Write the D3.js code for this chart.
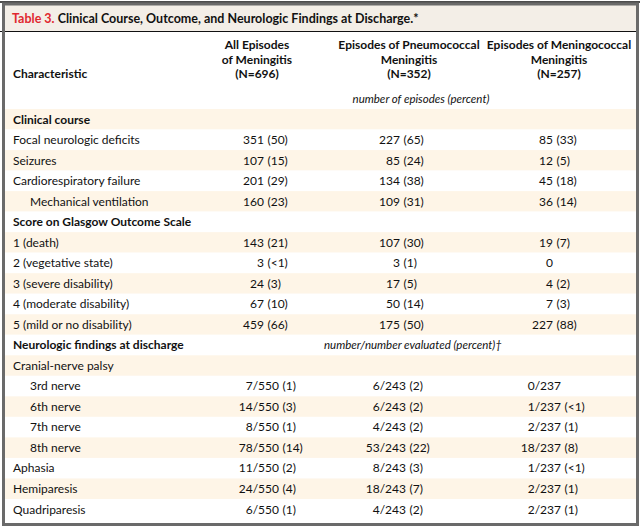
<!DOCTYPE html>
<html>
<head>
<meta charset="utf-8">
<script src="https://cdn.jsdelivr.net/npm/d3@7/dist/d3.min.js"></script>
<style>
  html, body { margin: 0; padding: 0; background: #ffffff; }
  svg { display: block; font-family: Lato, "Noto Sans", sans-serif; }
</style>
</head>
<body>
<svg id="chart" width="644" height="529"></svg>
<script>
// ---------------- data ----------------
const titleLabel = "Table 3.";
const titleText = "Clinical Course, Outcome, and Neurologic Findings at Discharge.*";
const stubHeader = "Characteristic";
const columnKeys = ["all", "pneumo", "meningo"];
const columnHeaders = [
  ["All Episodes", "of Meningitis", "(N=696)"],
  ["Episodes of Pneumococcal", "Meningitis", "(N=352)"],
  ["Episodes of Meningococcal", "Meningitis", "(N=257)"]
];
const unitNotes = ["number of episodes (percent)", "number/number evaluated (percent)\u2020"];
const sectionHeads = ["Clinical course", "Score on Glasgow Outcome Scale", "Neurologic findings at discharge"];
const indentedRows = ["Mechanical ventilation", "3rd nerve", "6th nerve", "7th nerve", "8th nerve"];
const characteristics = [
  "Clinical course",
  "Focal neurologic deficits",
  "Seizures",
  "Cardiorespiratory failure",
  "Mechanical ventilation",
  "Score on Glasgow Outcome Scale",
  "1 (death)",
  "2 (vegetative state)",
  "3 (severe disability)",
  "4 (moderate disability)",
  "5 (mild or no disability)",
  "Neurologic findings at discharge",
  "Cranial-nerve palsy",
  "3rd nerve",
  "6th nerve",
  "7th nerve",
  "8th nerve",
  "Aphasia",
  "Hemiparesis",
  "Quadriparesis"
];
const allEpisodes = ["", "351 (50)", "107 (15)", "201 (29)", "160 (23)", "",
  "143 (21)", "3 (<1)", "24 (3)", "67 (10)", "459 (66)", "", "",
  "7/550 (1)", "14/550 (3)", "8/550 (1)", "78/550 (14)", "11/550 (2)", "24/550 (4)", "6/550 (1)"];
const pneumococcal = ["", "227 (65)", "85 (24)", "134 (38)", "109 (31)", "",
  "107 (30)", "3 (1)", "17 (5)", "50 (14)", "175 (50)", "", "",
  "6/243 (2)", "6/243 (2)", "4/243 (2)", "53/243 (22)", "8/243 (3)", "18/243 (7)", "4/243 (2)"];
const meningococcal = ["", "85 (33)", "12 (5)", "45 (18)", "36 (14)", "",
  "19 (7)", "0", "4 (2)", "7 (3)", "227 (88)", "", "",
  "0/237", "1/237 (<1)", "2/237 (1)", "18/237 (8)", "1/237 (<1)", "2/237 (1)", "2/237 (1)"];

// ---------------- drawing ----------------
(function () {
const svg = d3.select("#chart");
const colors = { border: "#6a6a6a", band: "#f3eee7", stripe: "#fef5e7", red: "#e0282f", text: "#111111" };

const bxL = 2, bxR = 639, bxT = 5, bxB = 526;
const rowsTop = 109, rowsBottom = 519.5;

const y = d3.scaleBand().domain(d3.range(characteristics.length)).range([rowsTop, rowsBottom]).paddingInner(0);
const colCenter = d3.scaleOrdinal().domain(columnKeys).range([257, 409, 559]);
const anchorCount = d3.scaleOrdinal().domain(columnKeys).range([264, 400, 553]);
const anchorFrac = d3.scaleOrdinal().domain(columnKeys).range([279, 406, 561]);
const neuroStart = characteristics.indexOf(sectionHeads[2]);

svg.append("rect").attr("x", bxL).attr("y", bxT).attr("width", bxR - bxL).attr("height", 26.5).attr("fill", colors.band);
svg.append("g").selectAll("rect").data(characteristics).join("rect")
  .attr("x", bxL).attr("width", bxR - bxL)
  .attr("y", (d, i) => y(i)).attr("height", y.bandwidth())
  .attr("fill", (d, i) => i % 2 === 0 ? colors.stripe : "#ffffff");

svg.append("line").attr("x1", 0).attr("x2", 640).attr("y1", 2).attr("y2", 2).attr("stroke", "#111").attr("stroke-width", 1.5);
svg.append("line").attr("x1", 0).attr("x2", 638).attr("y1", 31.5).attr("y2", 31.5).attr("stroke", "#111").attr("stroke-width", 1);
svg.append("rect").attr("x", bxL + 1.5).attr("y", bxT - 1).attr("width", bxR - bxL - 3).attr("height", bxB - bxT - 0.5)
  .attr("fill", "none").attr("stroke", colors.border).attr("stroke-width", 3);

const title = svg.append("text").attr("x", 12).attr("y", 23).attr("font-size", 12.5).attr("font-weight", 700).attr("fill", colors.text);
title.append("tspan").attr("fill", colors.red).text(titleLabel + " ");
title.append("tspan").text(titleText);

svg.append("text").attr("x", 13).attr("y", 77.5).attr("font-size", 12).attr("font-weight", 700).attr("fill", colors.text).text(stubHeader);
const hdr = svg.append("g").selectAll("text").data(columnKeys).join("text")
  .attr("x", d => colCenter(d)).attr("text-anchor", "middle")
  .attr("font-size", 12).attr("font-weight", 700).attr("fill", colors.text);
hdr.selectAll("tspan").data((d, i) => columnHeaders[i].map(t => ({ t, k: d }))).join("tspan")
  .attr("x", d => colCenter(d.k)).attr("y", (d, j) => 49 + j * 14.5).text(d => d.t);

svg.append("text").attr("x", 421).attr("y", 103).attr("text-anchor", "middle").attr("font-size", 11.5)
  .attr("font-style", "italic").attr("fill", colors.text).text(unitNotes[0]);
svg.append("text").attr("x", 413).attr("y", y(neuroStart) + y.bandwidth() / 2 + 4).attr("text-anchor", "middle").attr("font-size", 11.5)
  .attr("font-style", "italic").attr("fill", colors.text).text(unitNotes[1]);

svg.append("g").selectAll("text").data(characteristics).join("text")
  .attr("x", d => indentedRows.includes(d) ? 30 : 13)
  .attr("y", (d, i) => y(i) + y.bandwidth() / 2 + 4.3)
  .attr("font-size", 12)
  .attr("font-weight", d => sectionHeads.includes(d) ? 700 : 400)
  .attr("fill", colors.text).text(d => d);

const columns = { all: allEpisodes, pneumo: pneumococcal, meningo: meningococcal };
const cells = [];
columnKeys.forEach(k => columns[k].forEach((v, i) => {
  if (!v) return;
  const m = v.match(/^(\S+)(\s.*)?$/);
  cells.push({ k, i, num: m[1], pct: m[2] ? m[2].trim() : "" });
}));
const cg = svg.append("g").attr("font-size", 12).attr("fill", colors.text);
cg.selectAll("text.num").data(cells).join("text").attr("class", "num")
  .attr("x", d => d.i > neuroStart ? anchorFrac(d.k) : anchorCount(d.k))
  .attr("y", d => y(d.i) + y.bandwidth() / 2 + 4.3)
  .attr("text-anchor", "end").text(d => d.num);
cg.selectAll("text.pct").data(cells.filter(d => d.pct)).join("text").attr("class", "pct")
  .attr("x", d => (d.i > neuroStart ? anchorFrac(d.k) : anchorCount(d.k)) + 3.5)
  .attr("y", d => y(d.i) + y.bandwidth() / 2 + 4.3)
  .text(d => d.pct);
})();
</script>
</body>
</html>
